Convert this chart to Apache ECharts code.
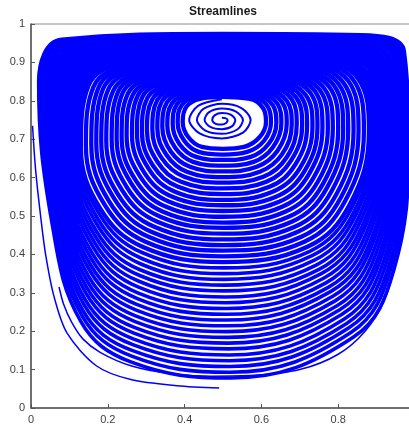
<!DOCTYPE html>
<html>
<head>
<meta charset="utf-8">
<title>Streamlines</title>
<script src="https://cdn.jsdelivr.net/npm/echarts@6/dist/echarts.min.js"></script>
<style>
    html, body { margin: 0; padding: 0; background: #fff; }
    #chart { width: 409px; height: 427px; }
</style>
</head>
<body>
<div id="chart"></div>
<script>
// axis ticks
const xTicks = [0, 0.2, 0.4, 0.6, 0.8, 1]
const yTicks = [0, 0.1, 0.2, 0.3, 0.4, 0.5, 0.6, 0.7, 0.8, 0.9, 1]

// spiral at the vortex centre
const spiralCore = [
    [0.497, 0.756], [0.506, 0.755], [0.512, 0.750], [0.509, 0.743], [0.497, 0.738], [0.481, 0.740],
    [0.472, 0.750], [0.478, 0.762], [0.497, 0.768], [0.520, 0.764], [0.532, 0.750], [0.524, 0.734],
    [0.497, 0.726], [0.467, 0.732], [0.452, 0.750], [0.463, 0.770], [0.497, 0.780], [0.534, 0.772],
    [0.552, 0.750], [0.538, 0.726], [0.497, 0.714], [0.453, 0.723], [0.432, 0.750], [0.449, 0.779],
    [0.497, 0.792], [0.548, 0.781], [0.572, 0.750], [0.552, 0.717], [0.497, 0.702], [0.439, 0.715],
    [0.412, 0.750], [0.435, 0.787], [0.497, 0.804]
]

// rings with visible gaps (inner -> outer)
const innerRings = [
    [[.5,.810],[.570,.805],[.605,.780],[.612,.745],[.595,.705],[.555,.680],[.5,.675],[.445,.680],[.410,.705],[.395,.745],[.405,.785],[.440,.805]],
    [[.5,.815],[.579,.810],[.617,.784],[.625,.744],[.607,.696],[.563,.667],[.5,.660],[.437,.667],[.399,.696],[.382,.742],[.392,.788],[.431,.810]],
    [[.5,.820],[.587,.815],[.630,.788],[.639,.743],[.619,.688],[.572,.654],[.5,.646],[.430,.654],[.387,.687],[.369,.739],[.380,.791],[.422,.815]],
    [[.5,.825],[.596,.820],[.642,.792],[.652,.741],[.630,.679],[.580,.641],[.5,.631],[.422,.641],[.376,.677],[.355,.735],[.367,.793],[.413,.819]],
    [[.5,.830],[.604,.825],[.654,.796],[.666,.740],[.642,.670],[.588,.628],[.5,.616],[.414,.628],[.364,.668],[.342,.732],[.354,.796],[.404,.824]],
    [[.5,.835],[.613,.830],[.666,.800],[.679,.739],[.654,.661],[.596,.615],[.5,.601],[.406,.615],[.353,.659],[.329,.729],[.341,.799],[.395,.829]],
    [[.5,.840],[.621,.835],[.679,.804],[.692,.738],[.666,.653],[.605,.602],[.5,.587],[.399,.602],[.341,.650],[.316,.726],[.329,.802],[.386,.834]],
    [[.5,.845],[.630,.840],[.691,.808],[.706,.736],[.677,.644],[.613,.589],[.5,.572],[.391,.589],[.330,.640],[.302,.722],[.316,.804],[.377,.838]],
    [[.5,.850],[.638,.845],[.703,.812],[.719,.735],[.689,.635],[.621,.576],[.5,.557],[.383,.576],[.318,.631],[.289,.719],[.303,.807],[.368,.843]],
    [[.5,.855],[.647,.850],[.715,.816],[.733,.734],[.701,.626],[.629,.563],[.5,.542],[.375,.563],[.307,.622],[.276,.716],[.290,.810],[.359,.848]],
    [[.5,.860],[.655,.855],[.728,.820],[.746,.733],[.713,.618],[.638,.550],[.5,.528],[.368,.550],[.295,.613],[.263,.713],[.278,.813],[.350,.853]],
    [[.5,.865],[.664,.860],[.740,.824],[.759,.731],[.724,.609],[.646,.537],[.5,.513],[.360,.537],[.284,.603],[.249,.709],[.265,.815],[.341,.857]],
    [[.5,.870],[.672,.865],[.752,.828],[.773,.730],[.736,.600],[.654,.524],[.5,.498],[.352,.524],[.272,.594],[.236,.706],[.252,.818],[.332,.862]],
    [[.5,.875],[.681,.870],[.764,.832],[.786,.729],[.748,.591],[.662,.511],[.5,.483],[.344,.511],[.261,.585],[.223,.703],[.239,.821],[.323,.867]],
    [[.5,.880],[.689,.875],[.777,.836],[.800,.728],[.760,.583],[.671,.498],[.5,.469],[.337,.498],[.249,.576],[.210,.700],[.227,.824],[.314,.872]],
    [[.5,.885],[.698,.880],[.789,.840],[.813,.726],[.771,.574],[.679,.485],[.5,.454],[.329,.485],[.238,.566],[.196,.696],[.214,.826],[.305,.876]],
    [[.5,.890],[.706,.885],[.801,.844],[.826,.725],[.783,.565],[.687,.472],[.5,.439],[.321,.472],[.226,.557],[.183,.693],[.201,.829],[.296,.881]],
    [[.5,.895],[.715,.890],[.813,.848],[.840,.724],[.795,.556],[.695,.459],[.5,.424],[.313,.459],[.215,.548],[.170,.690],[.188,.832],[.287,.886]],
    [[.5,.900],[.723,.895],[.826,.852],[.853,.723],[.807,.548],[.704,.446],[.5,.410],[.306,.446],[.203,.539],[.157,.687],[.176,.835],[.278,.891]],
    [[.5,.905],[.732,.900],[.838,.856],[.867,.721],[.818,.539],[.712,.433],[.5,.395],[.298,.433],[.192,.529],[.143,.683],[.163,.837],[.269,.895]],
    [[.5,.910],[.740,.905],[.850,.860],[.880,.720],[.830,.530],[.720,.420],[.5,.380],[.290,.420],[.180,.520],[.130,.680],[.150,.840],[.260,.900]]
]

// dense outer loops squeezed against the lid
const outerLoops = [
    [[.5,.913],[.746,.908],[.856,.864],[.885,.718],[.836,.522],[.726,.408],[.501,.365],[.289,.405],[.178,.505],[.126,.670],[.144,.841],[.251,.903]],
    [[.5,.917],[.752,.912],[.862,.867],[.890,.716],[.842,.513],[.732,.397],[.502,.350],[.287,.390],[.175,.491],[.123,.660],[.137,.841],[.242,.906]],
    [[.5,.920],[.758,.915],[.868,.871],[.895,.714],[.847,.505],[.738,.385],[.503,.335],[.286,.375],[.173,.476],[.119,.650],[.131,.842],[.233,.909]],
    [[.5,.923],[.764,.918],[.874,.874],[.901,.712],[.853,.496],[.744,.373],[.504,.320],[.284,.360],[.170,.461],[.115,.640],[.124,.842],[.224,.912]],
    [[.5,.926],[.770,.922],[.881,.878],[.906,.710],[.859,.488],[.750,.361],[.505,.305],[.283,.345],[.168,.446],[.111,.630],[.118,.843],[.215,.915]],
    [[.5,.930],[.776,.925],[.887,.881],[.911,.708],[.865,.479],[.756,.350],[.506,.289],[.281,.330],[.165,.432],[.108,.620],[.111,.843],[.206,.918]],
    [[.5,.933],[.782,.928],[.893,.885],[.916,.706],[.870,.471],[.762,.338],[.507,.274],[.280,.315],[.163,.417],[.104,.610],[.105,.844],[.197,.921]],
    [[.5,.936],[.788,.932],[.899,.888],[.921,.704],[.876,.462],[.768,.326],[.508,.259],[.278,.300],[.160,.402],[.100,.600],[.098,.844],[.188,.924]],
    [[.5,.939],[.794,.935],[.905,.892],[.926,.702],[.882,.454],[.774,.314],[.509,.244],[.277,.285],[.158,.387],[.096,.590],[.092,.845],[.179,.927]],
    [[.5,.943],[.800,.939],[.911,.895],[.932,.700],[.888,.445],[.780,.303],[.510,.229],[.275,.270],[.155,.373],[.093,.580],[.085,.845],[.170,.930]],
    [[.5,.946],[.806,.942],[.917,.899],[.937,.698],[.893,.437],[.786,.291],[.511,.214],[.274,.255],[.153,.358],[.089,.570],[.079,.846],[.161,.933]],
    [[.5,.949],[.812,.945],[.923,.902],[.942,.696],[.899,.428],[.792,.279],[.512,.199],[.272,.240],[.150,.343],[.085,.560],[.072,.846],[.152,.936]],
    [[.5,.952],[.818,.949],[.929,.906],[.947,.694],[.905,.420],[.798,.267],[.513,.184],[.271,.225],[.148,.328],[.081,.550],[.066,.847],[.143,.939]],
    [[.5,.956],[.824,.952],[.935,.909],[.952,.692],[.911,.411],[.804,.256],[.514,.169],[.269,.210],[.145,.314],[.078,.540],[.059,.847],[.134,.942]],
    [[.5,.959],[.830,.955],[.942,.913],[.957,.690],[.916,.403],[.810,.244],[.515,.154],[.268,.195],[.143,.299],[.074,.530],[.053,.848],[.125,.945]],
    [[.5,.962],[.836,.959],[.948,.916],[.962,.688],[.922,.394],[.816,.232],[.516,.138],[.266,.180],[.140,.284],[.070,.520],[.046,.848],[.116,.948]],
    [[.5,.965],[.842,.962],[.954,.920],[.968,.686],[.928,.386],[.822,.220],[.517,.123],[.265,.165],[.138,.269],[.066,.510],[.040,.849],[.107,.951]],
    [[.5,.969],[.848,.965],[.960,.923],[.973,.684],[.934,.377],[.828,.209],[.518,.108],[.263,.150],[.135,.254],[.063,.500],[.033,.849],[.098,.954]],
    [[.5,.972],[.854,.969],[.966,.927],[.978,.682],[.939,.369],[.834,.197],[.519,.093],[.262,.135],[.133,.240],[.059,.490],[.027,.850],[.089,.957]],
    [[.5,.975],[.860,.972],[.972,.930],[.983,.680],[.945,.360],[.840,.185],[.520,.078],[.260,.120],[.130,.225],[.055,.480],[.020,.850],[.080,.960]]
]

// open streamlines near the left wall
const wallLine = [
    [0.004, 0.735], [0.012, 0.62], [0.025, 0.50], [0.038, 0.40], [0.060, 0.29], [0.094, 0.195],
    [0.170, 0.11], [0.260, 0.074], [0.380, 0.058], [0.490, 0.052]
]
const lowerLine = [
    [0.073, 0.315], [0.085, 0.27], [0.105, 0.225], [0.135, 0.18], [0.180, 0.145], [0.260, 0.11],
    [0.360, 0.09], [0.470, 0.083], [0.580, 0.085], [0.700, 0.10], [0.800, 0.14], [0.870, 0.20],
    [0.920, 0.28], [0.950, 0.38], [0.970, 0.50]
]

const blue = '#0000ff'
const fontFamily = '"Liberation Sans", Arial, sans-serif'

function loopSeries(points, width) {
    return {
        type: 'line',
        data: points.concat([points[0], points[1]]),
        smooth: 0.4,
        symbol: 'none',
        silent: true,
        lineStyle: { color: blue, width: width }
    }
}

function openSeries(points, width) {
    return {
        type: 'line',
        data: points,
        smooth: 0.3,
        symbol: 'none',
        silent: true,
        lineStyle: { color: blue, width: width }
    }
}

let seriesData = []
outerLoops.forEach((pts) => seriesData.push(loopSeries(pts, 3.6)))
innerRings.forEach((pts) => seriesData.push(loopSeries(pts, 4.3)))
seriesData.push(openSeries(spiralCore, 2))
seriesData.push(openSeries(wallLine, 1.5))
seriesData.push(openSeries(lowerLine, 1.5))

const chart = echarts.init(document.getElementById('chart'))
chart.setOption({
    animation: false,
    title: {
        text: 'Streamlines',
        left: 223,
        top: 6,
        padding: 0,
        textAlign: 'center',
        textStyle: { fontSize: 12, fontWeight: 'bold', color: '#1a1a1a', fontFamily: fontFamily }
    },
    grid: {
        left: 31,
        right: -6,
        top: 24,
        bottom: 19,
        show: true,
        borderColor: '#8c8c8c',
        borderWidth: 1,
        outerBoundsMode: 'none'
    },
    xAxis: {
        type: 'value',
        min: xTicks[0],
        max: xTicks[xTicks.length - 1],
        interval: 0.2,
        axisLine: { lineStyle: { color: '#555', width: 1.5 } },
        axisTick: { inside: true, length: 4, lineStyle: { color: '#555' } },
        axisLabel: { color: '#404040', fontSize: 11, margin: 6, fontFamily: fontFamily },
        splitLine: { show: false }
    },
    yAxis: {
        type: 'value',
        min: yTicks[0],
        max: yTicks[yTicks.length - 1],
        interval: 0.1,
        axisLine: { show: true, lineStyle: { color: '#555', width: 1.5 } },
        axisTick: { show: true, inside: true, length: 4, lineStyle: { color: '#555' } },
        axisLabel: { color: '#404040', fontSize: 11, margin: 6, fontFamily: fontFamily },
        splitLine: { show: false }
    },
    series: seriesData
})
</script>
</body>
</html>
